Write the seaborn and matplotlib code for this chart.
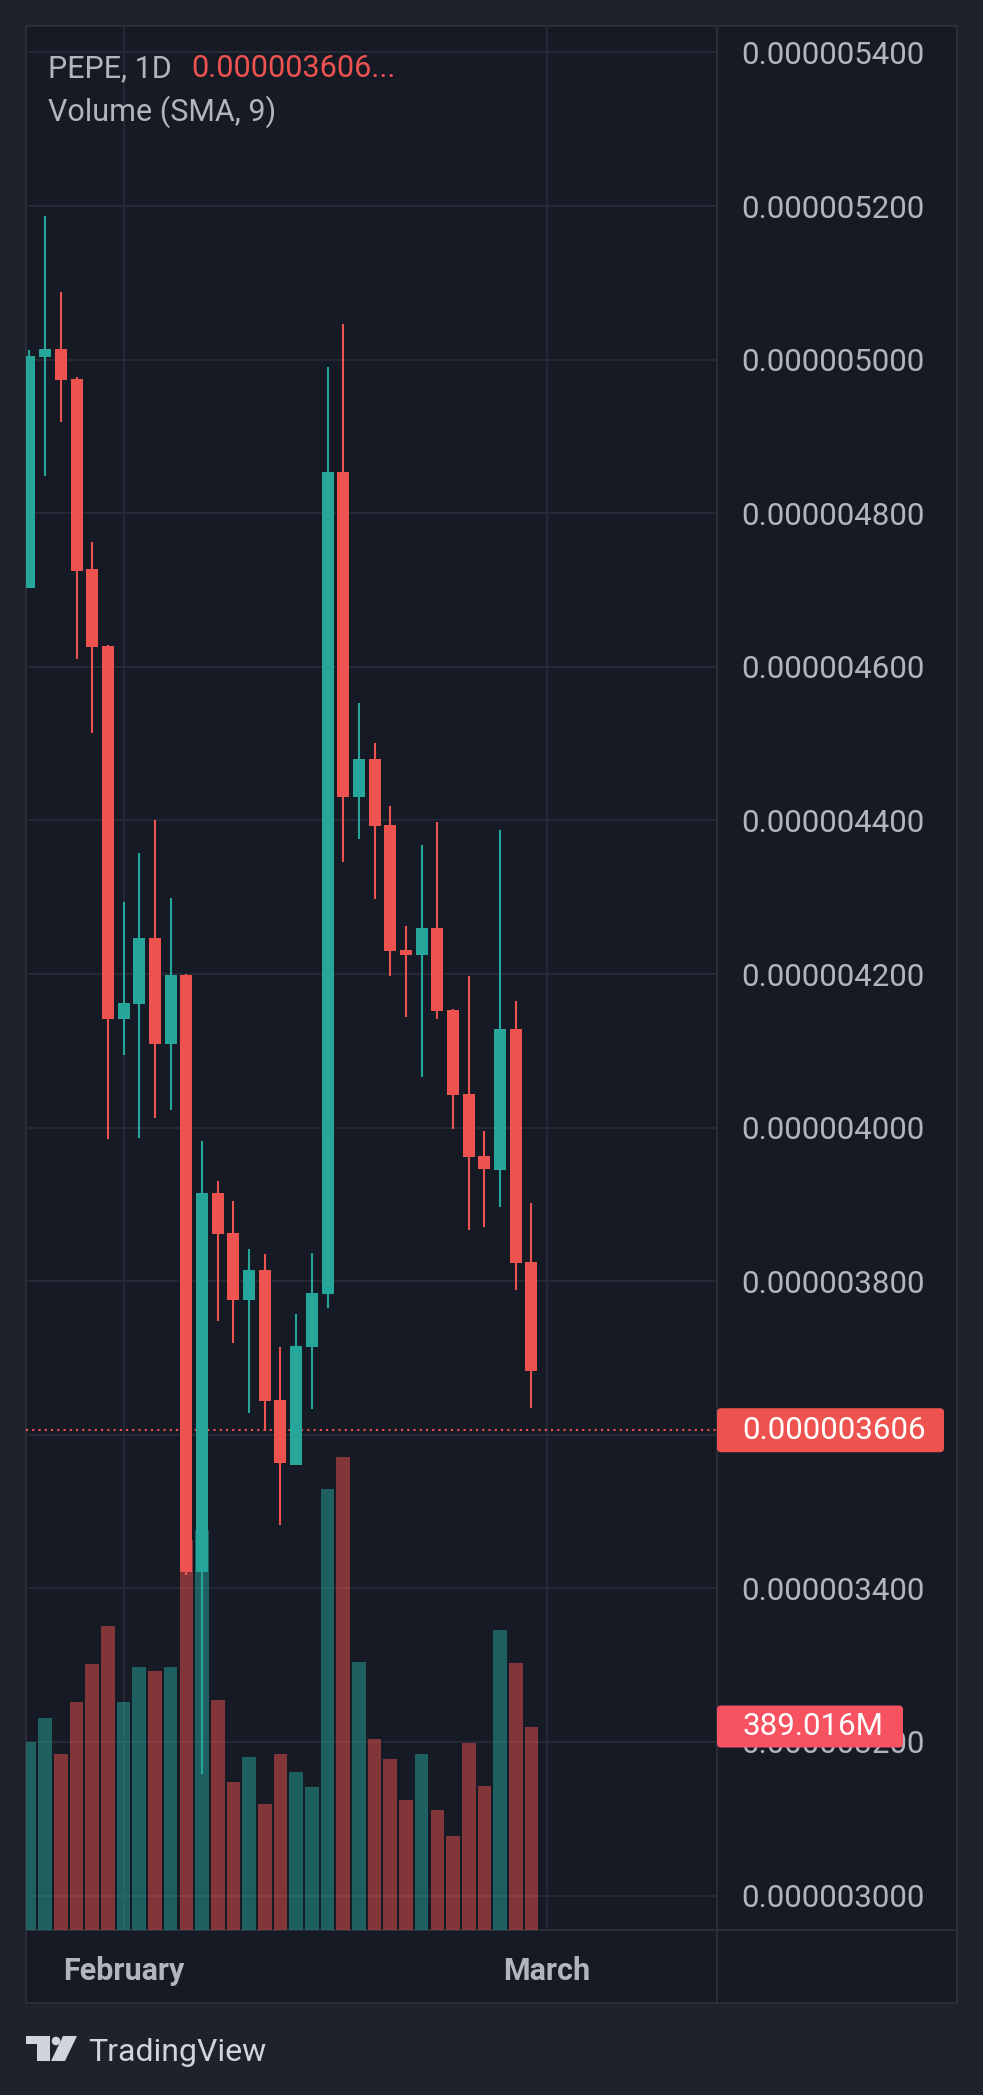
import numpy as np
import pandas as pd
import matplotlib
matplotlib.use("Agg")
import matplotlib.pyplot as plt
from matplotlib.patches import Rectangle, FancyBboxPatch, Polygon, Circle
from matplotlib.transforms import blended_transform_factory
import seaborn as sns

# daily candles, prices in units of 1e-6
opens = [4.703, 5.004, 5.014, 4.975, 4.727, 4.627, 4.142, 4.161, 4.247, 4.109, 4.199,
         3.421, 3.915, 3.863, 3.776, 3.814, 3.645, 3.561, 3.714, 3.783, 4.854, 4.431,
         4.480, 4.394, 4.231, 4.225, 4.260, 4.153, 4.044, 3.963, 3.945, 4.129, 3.825]
highs = [5.013, 5.187, 5.088, 4.978, 4.763, 4.629, 4.294, 4.357, 4.400, 4.299, 4.200,
         3.983, 3.931, 3.905, 3.842, 3.835, 3.714, 3.757, 3.837, 4.991, 5.047, 4.553,
         4.501, 4.419, 4.263, 4.368, 4.398, 4.155, 4.198, 3.996, 4.387, 4.165, 3.902]
lows = [4.703, 4.848, 4.919, 4.610, 4.514, 3.985, 4.095, 3.987, 4.013, 4.023, 3.417,
        3.158, 3.748, 3.719, 3.628, 3.605, 3.483, 3.561, 3.633, 3.765, 4.346, 4.376,
        4.298, 4.198, 4.144, 4.066, 4.142, 3.998, 3.867, 3.871, 3.897, 3.789, 3.635]
closes = [5.005, 5.014, 4.974, 4.725, 4.626, 4.142, 4.162, 4.247, 4.109, 4.199, 3.421,
          3.915, 3.862, 3.776, 3.814, 3.644, 3.563, 3.715, 3.784, 4.854, 4.431, 4.480,
          4.393, 4.230, 4.225, 4.260, 4.152, 4.043, 3.962, 3.946, 4.129, 3.824, 3.683]
# volume in millions
volumes_m = [360, 406, 336, 436, 509, 581, 436, 502, 496, 503, 745, 764, 439, 282, 331,
             240, 336, 303, 274, 844, 905, 513, 366, 326, 248, 337, 229, 179, 357, 276,
             573, 511, 389.016]

price_ticks = [3.0, 3.2, 3.4, 3.6, 3.8, 4.0, 4.2, 4.4, 4.6, 4.8, 5.0, 5.2, 5.4]
month_pos = [6, 33]
month_labels = ["February", "March"]
last_price = 3.606
symbol = "PEPE, 1D"
vol_title = "Volume (SMA, 9)"

BG_OUT = "#1e222d"
BG = "#161a25"
GRID = "#252935"
BORDER = "#2a2e39"
TXT = "#b2b5be"
UP = "#26a69a"
DOWN = "#ef5350"

sns.set_theme(style="dark", rc={"figure.facecolor": BG_OUT, "axes.facecolor": "none"})
plt.rcParams["font.family"] = ["Roboto", "DejaVu Sans"]

W, H = 983, 2095
fig = plt.figure(figsize=(W / 100, H / 100), dpi=100)


def frac(x0, y0, x1, y1):
    # pixel box (top-left origin) -> figure fraction rect
    return [x0 / W, 1 - y1 / H, (x1 - x0) / W, (y1 - y0) / H]


L, T, R, B = 26, 26, 716.6, 1930

# pane background and borders
bg = fig.add_axes([0, 0, 1, 1], zorder=-5)
bg.set_xlim(0, W)
bg.set_ylim(H, 0)
bg.axis("off")
bg.add_patch(Rectangle((26, 26), 931, 1977, facecolor=BG, edgecolor=BORDER, lw=1.5))
bg.plot([26, 957], [B, B], color=BORDER, lw=1.5)
bg.plot([R, R], [26, 2003], color=BORDER, lw=1.5)

ax_v = fig.add_axes(frac(L, T, R, B), zorder=1)
ax = fig.add_axes(frac(L, T, R, B), zorder=2, sharex=ax_v)
for a in (ax, ax_v):
    a.set_facecolor("none")
    for s in a.spines.values():
        s.set_visible(False)

df = pd.DataFrame({"i": np.arange(len(opens)), "open": opens, "high": highs,
                   "low": lows, "close": closes, "volume": volumes_m})
df["dir"] = np.where(df["close"] >= df["open"], "up", "down")
colors = np.where(df["dir"] == "up", UP, DOWN)

# volume bars
sns.barplot(data=df, x="i", y="volume", hue="dir", palette={"up": UP, "down": DOWN},
            native_scale=True, dodge=False, width=0.87, saturation=1, alpha=0.5,
            errorbar=None, legend=False, ax=ax_v, zorder=1,
            linewidth=0, edgecolor="none")
ax_v.set_ylim(0, 3640)
ax_v.set_xlabel("")
ax_v.set_ylabel("")
ax_v.set_yticks([])
ax_v.tick_params(axis="both", length=0, labelbottom=False, labelleft=False)

# grid behind the volume
tr = blended_transform_factory(ax_v.transAxes, ax.transData)
ax_v.hlines(price_ticks, 0, 1, transform=tr, colors=GRID, lw=1.5, zorder=0)
for m in month_pos:
    ax_v.axvline(m, color=GRID, lw=1.5, zorder=0)

# candles
ax.vlines(df["i"], df["low"], df["high"], colors=colors, lw=1.5, zorder=3)
ax.bar(df["i"], (df["close"] - df["open"]).abs().clip(lower=0.004),
       bottom=np.minimum(df["open"], df["close"]), width=0.765, color=colors,
       linewidth=0, zorder=4)
ax.axhline(last_price, color=DOWN, lw=1.5, ls=(0, (1, 2)), zorder=2)

ax.set_xlim(-0.22, 43.8)
ax.set_ylim(2.9552, 5.4344)
ax.set_xlabel("")
ax.set_ylabel("")
ax.yaxis.tick_right()
ax.set_yticks(price_ticks)
ax.set_yticklabels([f"{p * 1e-6:.9f}" for p in price_ticks])
ax.tick_params(axis="y", length=0, pad=18, labelsize=22.5, labelcolor=TXT)
ax.set_xticks(month_pos)
ax.set_xticklabels(month_labels, fontweight="bold")
ax.tick_params(axis="x", length=0, pad=19, labelsize=22, labelcolor=TXT)

# overlay: header, price / volume labels, logo
deco = fig.add_axes([0, 0, 1, 1], zorder=5)
deco.set_xlim(0, W)
deco.set_ylim(H, 0)
deco.axis("off")
deco.patch.set_visible(False)

deco.text(47.6, 77, symbol, color=TXT, fontsize=22, va="baseline")
deco.text(191, 77, f"{last_price * 1e-6:.9f}...", color=DOWN, fontsize=22, va="baseline")
deco.text(47.6, 121, vol_title, color=TXT, fontsize=22, va="baseline")

y_px = H - ax.transData.transform((0, last_price))[1]
deco.add_patch(FancyBboxPatch((717, y_px - 22), 227, 44, boxstyle="round,pad=0,rounding_size=4",
                              fc=DOWN, ec="none"))
deco.text(742, y_px, f"{last_price * 1e-6:.9f}", color="white", fontsize=22.5, va="center")

y_v = H - ax_v.transData.transform((0, volumes_m[-1]))[1]
deco.add_patch(FancyBboxPatch((717, y_v - 21), 186, 42, boxstyle="round,pad=0,rounding_size=4",
                              fc="#f7525f", ec="none"))
deco.text(742, y_v, f"{volumes_m[-1]:.3f}M", color="white", fontsize=22.5, va="center")

LOGO = "#d1d4dc"
deco.add_patch(Rectangle((26, 2036), 24, 8, fc=LOGO, ec="none"))
deco.add_patch(Rectangle((37, 2036), 13, 25, fc=LOGO, ec="none"))
deco.add_patch(Circle((56, 2041), 4.3, fc=LOGO, ec="none"))
deco.add_patch(Polygon([(63, 2036), (77, 2036), (65, 2061), (51, 2061)], closed=True,
                       fc=LOGO, ec="none"))
deco.text(88, 2061, "TradingView", color=LOGO, fontsize=23, va="baseline")

fig.savefig("out.png", dpi=100, facecolor=BG_OUT)
